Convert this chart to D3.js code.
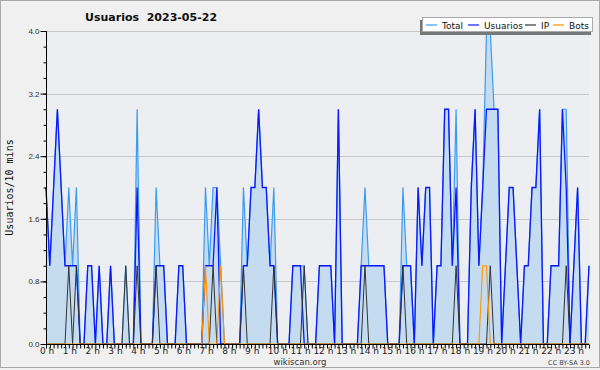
<!DOCTYPE html>
<html lang="es">
<head>
<meta charset="UTF-8">
<title>Usuarios 2023-05-22</title>
<script src="https://d3js.org/d3.v7.min.js"></script>
<style>
    body { margin: 0; background: #f0f0f0; }
    svg { display: block; font-family: "DejaVu Sans", sans-serif; }
</style>
</head>
<body>
<div id="chart"></div>
<script>
// values per 10-minute slot, 0 h .. 23 h 50
const total = [
    2,1,2,3,2,1,2,1,2,0,0,1,
    1,0,1,0,0,1,0,0,0,1,0,0,
    3,0,0,0,0,2,1,1,0,0,0,1,
    1,0,0,0,0,0,2,1,2,2,1,0,
    0,0,0,0,2,1,2,2,3,2,2,1,
    2,0,0,0,0,1,1,1,1,0,0,0,
    1,1,1,1,0,3,0,0,0,0,0,1,
    2,1,1,1,1,1,0,0,0,0,2,1,
    1,0,2,1,2,2,0,1,1,3,3,1,
    3,0,0,0,2,3,1,2,4,4,3,3,
    0,1,2,2,1,0,1,1,2,2,3,0,
    0,1,1,1,3,3,0,1,2,0,0,1
];
const usuarios = [
    2,1,2,3,2,1,1,1,1,0,0,1,
    1,0,1,0,0,1,0,0,0,0,0,0,
    2,0,0,0,0,1,1,1,0,0,0,1,
    1,0,0,0,0,0,1,1,1,2,0,0,
    0,0,0,0,1,1,2,2,3,2,2,1,
    1,0,0,0,0,1,1,1,0,0,0,0,
    1,1,1,1,0,3,0,0,0,0,0,1,
    1,1,1,1,1,1,0,0,0,0,1,1,
    1,0,2,1,2,2,0,1,1,3,3,1,
    2,0,0,0,2,3,1,2,3,3,3,3,
    0,1,2,2,1,0,1,1,2,2,3,0,
    0,1,1,1,3,2,0,1,2,0,0,1
];
const ip = [
    0,0,0,0,0,0,1,0,1,0,0,0,
    0,0,0,0,0,0,0,0,0,1,0,0,
    1,0,0,0,0,1,0,0,0,0,0,0,
    0,0,0,0,0,0,0,0,1,0,0,0,
    0,0,0,0,1,0,0,0,0,0,0,0,
    1,0,0,0,0,0,0,0,1,0,0,0,
    0,0,0,0,0,0,0,0,0,0,0,0,
    1,0,0,0,0,0,0,0,0,0,1,0,
    0,0,0,0,0,0,0,0,0,0,0,0,
    1,0,0,0,0,0,0,0,0,1,0,0,
    0,0,0,0,0,0,0,0,0,0,0,0,
    0,0,0,0,0,1,0,0,0,0,0,0
];
const bots = [
    0,0,0,0,0,0,0,0,0,0,0,0,
    0,0,0,0,0,0,0,0,0,0,0,0,
    0,0,0,0,0,0,0,0,0,0,0,0,
    0,0,0,0,0,0,1,0,0,0,1,0,
    0,0,0,0,0,0,0,0,0,0,0,0,
    0,0,0,0,0,0,0,0,0,0,0,0,
    0,0,0,0,0,0,0,0,0,0,0,0,
    0,0,0,0,0,0,0,0,0,0,0,0,
    0,0,0,0,0,0,0,0,0,0,0,0,
    0,0,0,0,0,0,0,1,1,0,0,0,
    0,0,0,0,0,0,0,0,0,0,0,0,
    0,0,0,0,0,0,0,0,0,0,0,0
];
const hourLabels = ["0 h","1 h","2 h","3 h","4 h","5 h","6 h","7 h","8 h","9 h","10 h","11 h",
                    "12 h","13 h","14 h","15 h","16 h","17 h","18 h","19 h","20 h","21 h","22 h","23 h"];
const yTicks = [0, 0.8, 1.6, 2.4, 3.2, 4.0];
const legendNames = ["Total", "Usuarios", "IP", "Bots"];

const width = 600, height = 370;
const margin = { top: 31, right: 11, bottom: 26, left: 46 };

const svg = d3.select("#chart").append("svg")
    .attr("width", width)
    .attr("height", height);

// page frame
svg.append("rect")
    .attr("x", 0.5).attr("y", 0.5)
    .attr("width", width - 1).attr("height", height - 3)
    .attr("fill", "#f0f0f0")
    .attr("stroke", "#a8a8a8");

const x = d3.scaleLinear()
    .domain([0, total.length - 1])
    .range([margin.left, width - margin.right]);
const y = d3.scaleLinear()
    .domain([0, 4])
    .range([height - margin.bottom, margin.top]);

// plot background
svg.append("rect")
    .attr("x", margin.left).attr("y", margin.top)
    .attr("width", width - margin.right - margin.left)
    .attr("height", y(0) - margin.top)
    .attr("fill", "#eceef1");

// grid
svg.append("g")
    .selectAll("line")
    .data(yTicks.filter(d => d > 0))
    .join("line")
    .attr("x1", margin.left).attr("x2", width - margin.right)
    .attr("y1", d => Math.round(y(d)) + 0.5).attr("y2", d => Math.round(y(d)) + 0.5)
    .attr("stroke", "#c8c8c8");

const idx = d3.range(total.length);

// total area + lines
svg.append("path")
    .datum(idx)
    .attr("fill", "#c5dcf0")
    .attr("d", d3.area().x(i => x(i)).y0(y(0)).y1(i => y(total[i])));

const line = arr => d3.line().x(i => x(i)).y(i => y(arr[i]));

svg.append("path").datum(idx)
    .attr("fill", "none").attr("stroke", "#3a9cf0").attr("stroke-width", 1.2)
    .attr("d", line(total));
svg.append("path").datum(idx)
    .attr("fill", "none").attr("stroke", "#0b18ff").attr("stroke-width", 1.3)
    .attr("d", line(usuarios));
svg.append("path").datum(idx)
    .attr("fill", "none").attr("stroke", "#333").attr("stroke-width", 1)
    .attr("d", line(ip));
svg.append("path").datum(idx)
    .attr("fill", "none").attr("stroke", "#ff9500").attr("stroke-width", 1.1)
    .attr("d", line(bots));

// y axis
const yAxis = svg.append("g")
    .attr("transform", `translate(${margin.left + 0.5},0)`)
    .call(d3.axisLeft(y).tickValues(yTicks).tickFormat(d3.format(".1f")).tickSize(6).tickPadding(1))
    .call(g => g.select(".domain").attr("d", `M0,${y(4)}V${y(0)}`).attr("stroke", "#000"))
    .call(g => g.selectAll("text").attr("font-size", 8).attr("fill", "#333"));
yAxis.selectAll(".tick line").attr("stroke", "#000");

svg.append("g")
    .attr("transform", `translate(${margin.left + 0.5},0)`)
    .call(d3.axisLeft(y).tickValues(d3.range(0, 4.01, 0.2)).tickFormat("").tickSize(3))
    .call(g => g.select(".domain").remove());

// x axis: one tick per 10 minutes, labels each hour
svg.append("g")
    .attr("transform", `translate(0,${y(0) + 0.5})`)
    .call(d3.axisBottom(x).tickValues(idx).tickFormat("").tickSize(4))
    .call(g => g.select(".domain").attr("d", `M${margin.left},0H${width - margin.right}`).attr("stroke", "#000"));

svg.append("g")
    .selectAll("text")
    .data(hourLabels)
    .join("text")
    .attr("x", (d, h) => x(h * 6) - 6)
    .attr("y", y(0) + 10)
    .attr("font-size", 9)
    .attr("fill", "#222")
    .text(d => d);

// y label
svg.append("text")
    .attr("transform", `translate(13,${(y(0) + y(4)) / 2}) rotate(-90)`)
    .attr("text-anchor", "middle")
    .attr("font-family", "DejaVu Sans Mono, monospace")
    .attr("font-size", 10)
    .attr("fill", "#111")
    .text("Usuarios/10 mins");

// title
svg.append("text")
    .attr("x", 85).attr("y", 21)
    .attr("font-size", 11).attr("font-weight", "bold")
    .attr("fill", "#111")
    .style("white-space", "pre")
    .text("Usuarios  2023-05-22");

// footer
svg.append("text")
    .attr("x", 300).attr("y", 365)
    .attr("text-anchor", "middle")
    .attr("font-size", 8.5).attr("fill", "#333")
    .text("wikiscan.org");
svg.append("text")
    .attr("x", 590).attr("y", 365)
    .attr("text-anchor", "end")
    .attr("font-size", 6.5).attr("fill", "#444")
    .text("CC BY-SA 3.0");

// legend
const legendColors = ["#3a9cf0", "#0b18ff", "#333", "#ff9500"];
const legendX = [426, 468, 525, 553];
svg.append("rect")
    .attr("x", 420).attr("y", 20).attr("width", 171).attr("height", 15)
    .attr("fill", "#777");
svg.append("rect")
    .attr("x", 422.5).attr("y", 17.5).attr("width", 170).attr("height", 14)
    .attr("fill", "#fff").attr("stroke", "#aaa");
const lg = svg.append("g").selectAll("g").data(legendNames).join("g")
    .attr("transform", (d, i) => `translate(${legendX[i]},25)`);
lg.append("line")
    .attr("x1", 0).attr("x2", 11).attr("y1", 0).attr("y2", 0)
    .attr("stroke", (d, i) => legendColors[i]).attr("stroke-width", 1.2);
lg.append("text")
    .attr("x", 16).attr("y", 3.5)
    .attr("font-size", 9).attr("fill", "#111")
    .text(d => d);
</script>
</body>
</html>
